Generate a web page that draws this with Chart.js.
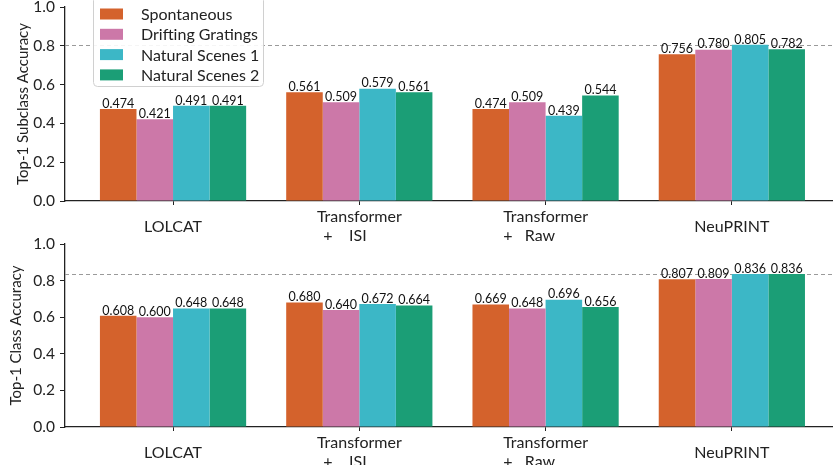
<!DOCTYPE html>
<html><head><meta charset="utf-8">
<script src="https://cdn.jsdelivr.net/npm/chart.js@4.4.0/dist/chart.umd.min.js"></script>
<style>
html,body{margin:0;padding:0;background:#fff;overflow:hidden;width:833px;height:465px;}
.box{position:absolute;left:0;width:833px;}
#b1{top:0;height:245px;}
#b2{top:232px;height:233px;}
</style></head><body>
<div class="box" id="b1"><canvas id="c1"></canvas></div>
<div class="box" id="b2"><canvas id="c2"></canvas></div>
<script>
const categories = [["LOLCAT"], ["Transformer", "+    ISI       "], ["Transformer", "+   Raw        "], ["NeuPRINT"]];
const seriesNames = ["Spontaneous", "Drifting Gratings", "Natural Scenes 1", "Natural Scenes 2"];
const colors = ["#D4622C", "#CC78A8", "#3CB7C6", "#1B9E76"];
const subclassSpontaneous = [0.474, 0.561, 0.474, 0.756];
const subclassDrifting    = [0.421, 0.509, 0.509, 0.780];
const subclassNS1         = [0.491, 0.579, 0.439, 0.805];
const subclassNS2         = [0.491, 0.561, 0.544, 0.782];
const classSpontaneous    = [0.608, 0.680, 0.669, 0.807];
const classDrifting       = [0.600, 0.640, 0.648, 0.809];
const classNS1            = [0.648, 0.672, 0.696, 0.836];
const classNS2            = [0.648, 0.664, 0.656, 0.836];
const yTicks = [0, 0.2, 0.4, 0.6, 0.8, 1.0];

const FONT = "Lato, 'Open Sans', sans-serif";

const refLine = {
  id: 'refLine',
  beforeDatasetsDraw(chart) {
    const ys = chart.scales.y, ctx = chart.ctx;
    let m = 0;
    chart.data.datasets.forEach(d => d.data.forEach(p => { if (p.y > m) m = p.y; }));
    const py = Math.round(ys.getPixelForValue(m)) + 0.5;
    ctx.save();
    ctx.strokeStyle = '#9a9a9a';
    ctx.lineWidth = 1;
    ctx.setLineDash([4, 3]);
    ctx.beginPath();
    ctx.moveTo(chart.chartArea.left, py);
    ctx.lineTo(chart.chartArea.right, py);
    ctx.stroke();
    ctx.restore();
  }
};

const valueLabels = {
  id: 'valueLabels',
  afterDatasetsDraw(chart) {
    const ctx = chart.ctx;
    ctx.save();
    ctx.font = "12.5px " + FONT;
    ctx.fillStyle = '#111';
    ctx.textAlign = 'center';
    ctx.textBaseline = 'bottom';
    chart.data.datasets.forEach((d, di) => {
      const meta = chart.getDatasetMeta(di);
      meta.data.forEach((el, i) => {
        ctx.fillText(d.data[i].y.toFixed(3), el.x, el.y + 1);
      });
    });
    ctx.restore();
  }
};

const boxLegend = {
  id: 'boxLegend',
  afterDraw(chart) {
    if (!chart.options.plugins.boxLegend || !chart.options.plugins.boxLegend.show) return;
    const ctx = chart.ctx;
    ctx.save();
    const x0 = 93, y0 = -4, w = 170, h = 90, r = 4;
    ctx.beginPath();
    ctx.roundRect(x0 + 0.5, y0 + 0.5, w, h, r);
    ctx.fillStyle = 'rgba(255,255,255,0.9)';
    ctx.fill();
    ctx.strokeStyle = '#d0d0d0';
    ctx.lineWidth = 1;
    ctx.stroke();
    ctx.font = "16px " + FONT;
    ctx.textBaseline = 'middle';
    ctx.textAlign = 'left';
    chart.data.datasets.forEach((d, i) => {
      const cy = 14 + i * 20.3;
      ctx.fillStyle = d.backgroundColor;
      ctx.fillRect(100, cy - 5.5, 23, 11);
      ctx.fillStyle = '#222';
      ctx.fillText(d.label, 141, cy + 1);
    });
    ctx.restore();
  }
};

function makeChart(id, series, title, padTop, xAxisH, titlePad, showLegend) {
  const datasets = series.map((arr, k) => ({
    label: seriesNames[k],
    data: arr.map((v, i) => ({ x: i, y: v })),
    backgroundColor: colors[k],
    borderWidth: 0,
    categoryPercentage: 0.785,
    barPercentage: 1.0
  }));
  return new Chart(document.getElementById(id), {
    type: 'bar',
    data: { datasets },
    plugins: [refLine, valueLabels, boxLegend],
    options: {
      responsive: true,
      maintainAspectRatio: false,
      animation: false,
      layout: { padding: { top: padTop, left: 0, right: 0, bottom: 0 } },
      plugins: {
        legend: { display: false },
        tooltip: { enabled: false },
        boxLegend: { show: showLegend }
      },
      scales: {
        x: {
          type: 'linear',
          offset: false,
          min: -0.58,
          max: 3.543,
          afterBuildTicks: s => { s.ticks = categories.map((c, i) => ({ value: i })); },
          afterFit: s => { s.height = xAxisH; s.paddingLeft = 0; s.paddingRight = 0; },
          ticks: {
            callback: v => categories[v],
            font: { family: FONT, size: 16, lineHeight: 1.2 },
            color: '#222',
            padding: 12,
            crossAlign: 'center',
            maxRotation: 0,
            autoSkip: false
          },
          grid: { offset: false, drawOnChartArea: false, tickLength: 4, color: '#222', tickWidth: 1 },
          border: { display: true, color: '#222', width: 1.3 }
        },
        y: {
          min: 0,
          max: 1,
          afterBuildTicks: s => { s.ticks = yTicks.map(v => ({ value: v })); },
          afterFit: s => { s.width = 65; s.paddingTop = 0; s.paddingBottom = 0; },
          ticks: {
            callback: v => v.toFixed(1),
            font: { family: FONT, size: 15.5 },
            color: '#222',
            padding: 5
          },
          grid: { drawOnChartArea: false, tickLength: 5, color: '#222', tickWidth: 1 },
          border: { display: true, color: '#222', width: 1.3 },
          title: {
            display: true,
            text: title,
            font: { family: FONT, size: 15 },
            color: '#222',
            padding: { top: titlePad + 1, bottom: 0 }
          }
        }
      }
    }
  });
}

makeChart('c1', [subclassSpontaneous, subclassDrifting, subclassNS1, subclassNS2], 'Top-1 Subclass Accuracy', 7, 44, 13, true);
makeChart('c2', [classSpontaneous, classDrifting, classNS1, classNS2], 'Top-1 Class Accuracy', 12, 38, 6, false);
</script>
</body></html>
